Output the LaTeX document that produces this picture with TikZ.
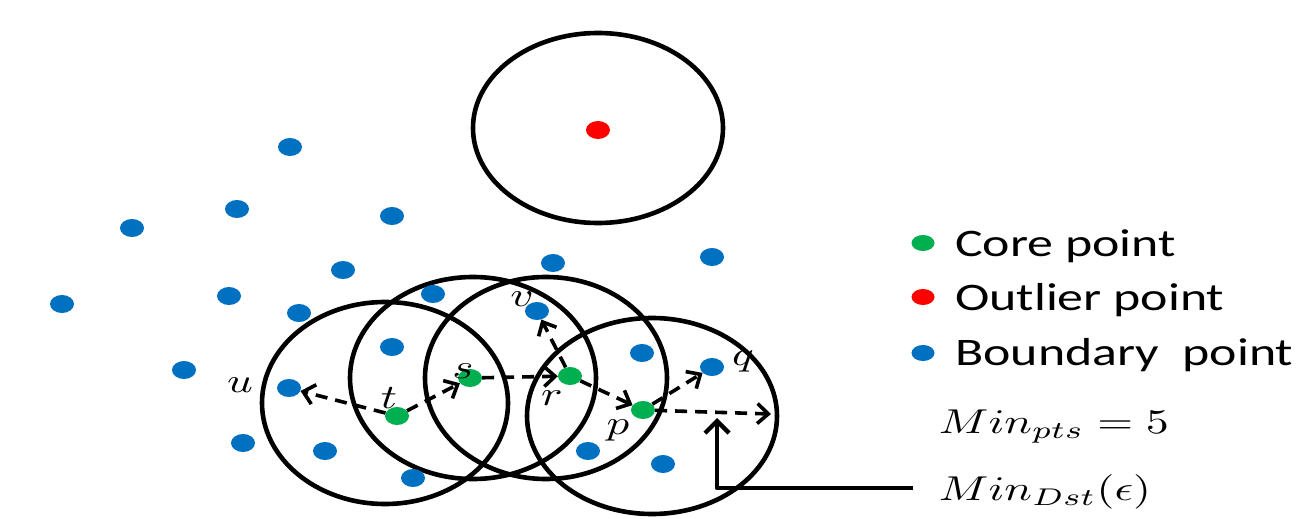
\documentclass[tikz,border=0pt]{standalone}
\usepackage{fontspec}
\newfontfamily\legendfont{Carlito}
\usetikzlibrary{arrows.meta,shapes.geometric}
\definecolor{corecol}{RGB}{0,176,80}
\definecolor{outcol}{RGB}{255,0,0}
\definecolor{bndcol}{RGB}{0,112,192}

\begin{document}
\begin{tikzpicture}[x=1pt,y=-1pt,line join=round,
  pt/.style={ellipse,inner sep=0pt,minimum width=24pt,minimum height=18pt},
  bnd/.style={pt,fill=bndcol},
  core/.style={pt,fill=corecol},
  outl/.style={pt,fill=outcol},
  nbhd/.style={line width=4.6pt},
  reach/.style={line width=3.6pt,dash pattern=on 12pt off 8pt,
    -{Straight Barb[length=11pt,width=20pt]}},
  epsptr/.style={line width=4.4pt,-{Straight Barb[length=12pt,width=24pt]}},
  lbl/.style={xscale=4.5,yscale=3.4,inner sep=0pt},
  legend/.style={font=\legendfont\fontsize{39}{47}\selectfont,xscale=1.33,
    inner sep=0pt,anchor=base west},
  mathnote/.style={xscale=4.6,yscale=3.45,inner sep=0pt,anchor=base west}]

\useasboundingbox (0,0) rectangle (1302,519);

%% ---------------- eps-neighbourhoods ----------------
\draw[nbhd] (598,128) ellipse [x radius=125, y radius=95];
\draw[nbhd] (385,403) ellipse [x radius=123, y radius=101];
\draw[nbhd] (473,378) ellipse [x radius=123, y radius=101];
\draw[nbhd] (546,378) ellipse [x radius=121, y radius=101];
\draw[nbhd] (652,416) ellipse [x radius=125, y radius=98];

%% ---------------- boundary points ----------------
\foreach \px/\py [count=\i] in {290/147,237/209,392/216,132/228,712/257,
    553/263,343/270,62/304,229/296,299/313,433/294,392/347,642/353,
    184/370,243/443,325/451,413/478,588/451,663/464}
  \node[bnd] (b\i) at (\px,\py) {};
\node[bnd] (u) at (289,388) {};
\node[bnd] (v) at (537,311) {};
\node[bnd] (q) at (712,367) {};

%% ---------------- core points and the outlier ----------------
\node[core] (t) at (397,416) {};
\node[core] (s) at (470,378) {};
\node[core] (r) at (570,376) {};
\node[core] (p) at (643,410) {};
\node[outl] (o) at (598,130) {};

%% point names
\node[lbl] (lu) at (240,385) {$u$};
\node[lbl] (lt) at (389,398) {$t$};
\node[lbl] (ls) at (463,371) {$s$};
\node[lbl] (lr) at (552,398) {$r$};
\node[lbl] (lv) at (522,299) {$v$};
\node[lbl] (lq) at (743,361) {$q$};
\node[lbl] (lp) at (618,430) {$p$};

%% ---------------- reachability chain ----------------
\coordinate (epsend) at (771,414);
\draw[reach] (t) -- (u);
\draw[reach] (t) -- (s);
\draw[reach] (s) -- (r);
\draw[reach] (r) -- (v);
\draw[reach] (r) -- (p);
\draw[reach] (p) -- (q);
\draw[reach] (p) -- (epsend);

%% ---------------- legend ----------------
\node[pt,fill=corecol,minimum width=23pt,minimum height=16pt] (kcore) at (923,243) {};
\node[pt,fill=outcol,minimum width=23pt,minimum height=16pt] (kout) at (923,297) {};
\node[pt,fill=bndcol,minimum width=23pt,minimum height=16pt] (kbnd) at (923,353) {};
\node[legend] (tcore) at (955,256) {Core point};
\node[legend] (tout) at (955,310) {Outlier point};
\node[legend] (tbnd) at (955,365) {Boundary\ \ point};

\node[mathnote] (minpts) at (938,433) {$Min_{pts}=5$};
\node[mathnote] (mindst) at (938,500) {$Min_{Dst}(\epsilon)$};
\coordinate (epstip) at (717,418);
\coordinate (dstfoot) at (913,488);
\draw[epsptr] (dstfoot) -| (epstip);

\end{tikzpicture}
\end{document}
